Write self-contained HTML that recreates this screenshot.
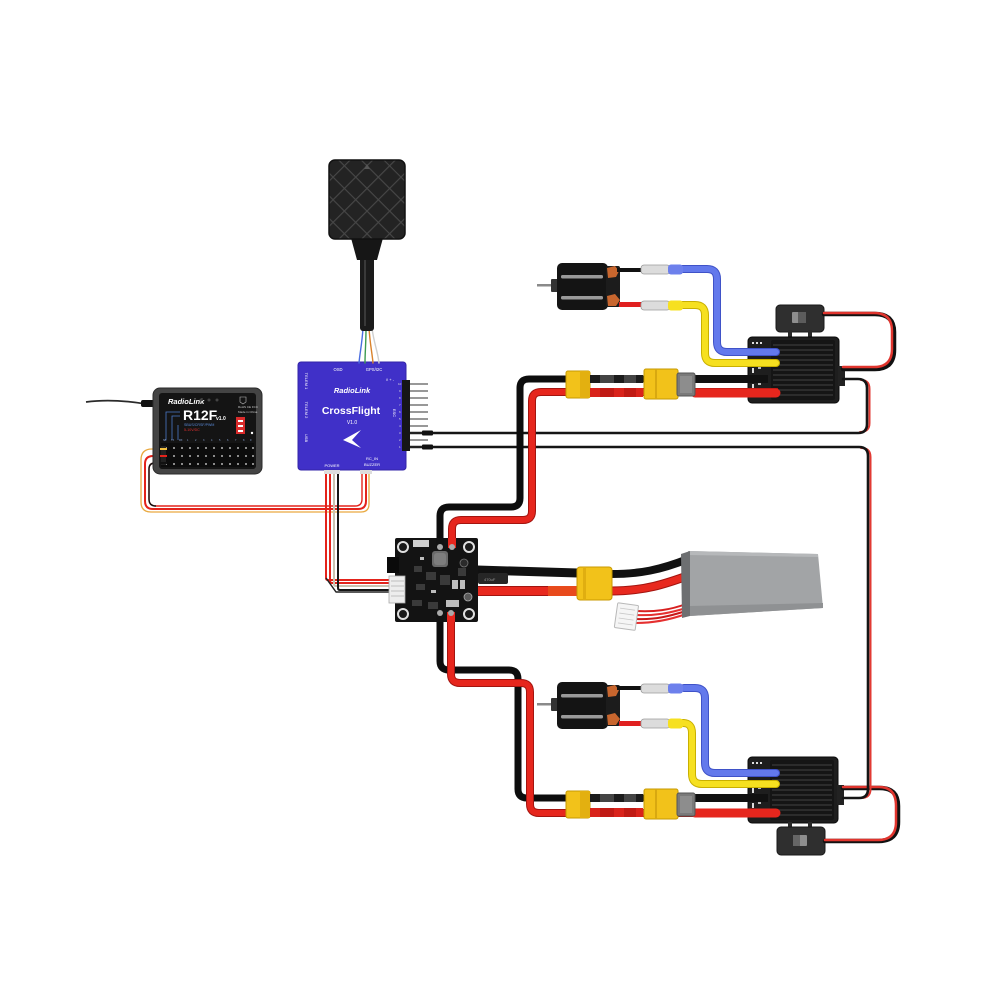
<!DOCTYPE html>
<html><head><meta charset="utf-8"><style>
html,body{margin:0;padding:0;background:#fff;}
svg{display:block;}
text{font-family:"Liberation Sans",sans-serif;}
</style></head><body>
<svg width="1000" height="1000" viewBox="0 0 1000 1000" xmlns="http://www.w3.org/2000/svg">
<defs>
<pattern id="dia" width="16" height="16" patternUnits="userSpaceOnUse" patternTransform="translate(367,165) rotate(45)">
<rect width="16" height="16" fill="#232323"/>
<path d="M0,0.5 H16 M0.5,0 V16" stroke="#474747" stroke-width="1.3"/>
</pattern>
</defs>
<rect width="1000" height="1000" fill="#fff"/>

<!-- ===== ESC bodies (top & bottom) ===== -->
<g id="escTop">
<rect x="776" y="305" width="48" height="27" rx="4" fill="#2f2f2f" stroke="#1a1a1a"/>
<rect x="792" y="312" width="14" height="11" rx="1" fill="#8e8e8e"/>
<rect x="798" y="312" width="8" height="11" fill="#5c5c5c"/>
<rect x="788" y="330" width="4" height="8" fill="#2a2a2a"/><rect x="808" y="330" width="4" height="8" fill="#2a2a2a"/>
<rect x="748" y="337" width="91" height="66" rx="4" fill="#1e1e1e" stroke="#0b0b0b"/>
<rect x="771" y="340" width="64" height="60" rx="2" fill="#151515"/>
<g stroke="#3a3a3a" stroke-width="1.2">
<line x1="773" y1="345" x2="833" y2="345"/><line x1="773" y1="350" x2="833" y2="350"/><line x1="773" y1="355" x2="833" y2="355"/><line x1="773" y1="360" x2="833" y2="360"/><line x1="773" y1="365" x2="833" y2="365"/><line x1="773" y1="370" x2="833" y2="370"/><line x1="773" y1="375" x2="833" y2="375"/><line x1="773" y1="380" x2="833" y2="380"/><line x1="773" y1="385" x2="833" y2="385"/><line x1="773" y1="390" x2="833" y2="390"/><line x1="773" y1="395" x2="833" y2="395"/>
</g>
<rect x="838" y="366" width="7" height="20" fill="#222"/>
<g fill="#ddd"><rect x="752" y="342" width="2" height="2"/><rect x="756" y="342" width="2" height="2"/><rect x="760" y="342" width="2" height="2"/>
<rect x="752" y="368" width="2" height="5"/><rect x="752" y="384" width="2" height="5"/><rect x="758" y="366" width="3" height="3" fill="#bbb"/><rect x="758" y="382" width="3" height="3" fill="#bbb"/></g>
</g>
<g id="escBot">
<rect x="748" y="757" width="90" height="66" rx="4" fill="#1e1e1e" stroke="#0b0b0b"/>
<rect x="770" y="760" width="64" height="60" rx="2" fill="#151515"/>
<g stroke="#3a3a3a" stroke-width="1.2">
<line x1="772" y1="765" x2="832" y2="765"/><line x1="772" y1="770" x2="832" y2="770"/><line x1="772" y1="775" x2="832" y2="775"/><line x1="772" y1="780" x2="832" y2="780"/><line x1="772" y1="785" x2="832" y2="785"/><line x1="772" y1="790" x2="832" y2="790"/><line x1="772" y1="795" x2="832" y2="795"/><line x1="772" y1="800" x2="832" y2="800"/><line x1="772" y1="805" x2="832" y2="805"/><line x1="772" y1="810" x2="832" y2="810"/><line x1="772" y1="815" x2="832" y2="815"/>
</g>
<rect x="837" y="785" width="7" height="20" fill="#222"/>
<g fill="#ddd"><rect x="752" y="762" width="2" height="2"/><rect x="756" y="762" width="2" height="2"/><rect x="760" y="762" width="2" height="2"/>
<rect x="752" y="788" width="2" height="5"/><rect x="752" y="803" width="2" height="5"/><rect x="758" y="786" width="3" height="3" fill="#bbb"/><rect x="758" y="801" width="3" height="3" fill="#bbb"/></g>
<rect x="788" y="822" width="4" height="7" fill="#2a2a2a"/><rect x="808" y="822" width="4" height="7" fill="#2a2a2a"/>
<rect x="777" y="827" width="48" height="28" rx="4" fill="#2f2f2f" stroke="#1a1a1a"/>
<rect x="793" y="835" width="14" height="11" rx="1" fill="#8e8e8e"/>
<rect x="793" y="835" width="7" height="11" fill="#666"/>
</g>

<!-- ===== Switch loops ===== -->
<g fill="none" stroke-linecap="round" stroke-linejoin="round">
<path d="M824,314 H875 Q894,314 894,332 V350 Q894,369 875,369 H843" stroke="#111" stroke-width="4.5"/>
<path d="M824,313 H874 Q892,313 892,331 V349 Q892,367 874,367 H843" stroke="#e0352e" stroke-width="2.5"/>
<path d="M825,841 H879 Q898,841 898,822 V806 Q898,788 880,788 H843" stroke="#111" stroke-width="4.5"/>
<path d="M825,840 H878 Q896,840 896,822 V806 Q896,787 879,787 H843" stroke="#e0352e" stroke-width="2.5"/>
</g>

<!-- ===== Signal wires FC -> ESC ===== -->
<g fill="none" stroke-linecap="round" stroke-linejoin="round">
<path d="M860,432 Q869.5,432 869.5,423 V389 Q869.5,380 861,380" stroke="#e23a33" stroke-width="2"/>
<path d="M425,433 H858 Q867,433 867,424 V388 Q867,379 858,379 H843" stroke="#151515" stroke-width="2.6"/>
<path d="M861,448 Q870.5,448 870.5,457 V789 Q870.5,798 861,798" stroke="#e23a33" stroke-width="2"/>
<path d="M425,447 H859 Q868,447 868,456 V789 Q868,798 859,798 H843" stroke="#151515" stroke-width="2.6"/>
</g>

<!-- ===== Main power wires ===== -->
<g fill="none" stroke-linecap="butt" stroke-linejoin="round">
<path d="M440,545 V516 Q440,507 449,507 H511 Q520,507 520,498 V388 Q520,379 529,379 H765" stroke="#0d0d0d" stroke-width="7"/>
<path d="M452,545 V529 Q452,520 461,520 H523 Q532,520 532,511 V401 Q532,392 541,392 H778" stroke="#a3140f" stroke-width="8"/>
<path d="M452,545 V529 Q452,520 461,520 H523 Q532,520 532,511 V401 Q532,392 541,392 H778" stroke="#e6261d" stroke-width="6"/>
<path d="M440,615 V661 Q440,670 449,670 H509 Q518,670 518,679 V789 Q518,798 527,798 H765" stroke="#0d0d0d" stroke-width="7"/>
<path d="M451,615 V674 Q451,683 460,683 H521 Q530,683 530,692 V804 Q530,813 539,813 H778" stroke="#a3140f" stroke-width="8"/>
<path d="M451,615 V674 Q451,683 460,683 H521 Q530,683 530,692 V804 Q530,813 539,813 H778" stroke="#e6261d" stroke-width="6"/>
<path d="M695,379 H768" stroke="#111" stroke-width="8"/>
<path d="M695,393 H776" stroke="#e6261d" stroke-width="9" stroke-linecap="round"/>
<path d="M695,798 H768" stroke="#111" stroke-width="8"/>
<path d="M695,813 H776" stroke="#e6261d" stroke-width="9" stroke-linecap="round"/>
</g>

<!-- ===== Motor wires blue/yellow ===== -->
<g fill="none" stroke-linecap="round" stroke-linejoin="round">
<path d="M682,269 H707 Q717,269 717,279 V342 Q717,352 727,352 H776" stroke="#3f52c8" stroke-width="8"/>
<path d="M682,269 H707 Q717,269 717,279 V342 Q717,352 727,352 H776" stroke="#6379ec" stroke-width="6"/>
<path d="M682,305 H695 Q705,305 705,315 V353 Q705,363 715,363 H776" stroke="#c9b000" stroke-width="8"/>
<path d="M682,305 H695 Q705,305 705,315 V353 Q705,363 715,363 H776" stroke="#f6e020" stroke-width="6"/>
<path d="M684,688 H695 Q705,688 705,698 V763 Q705,773 715,773 H776" stroke="#3f52c8" stroke-width="8"/>
<path d="M684,688 H695 Q705,688 705,698 V763 Q705,773 715,773 H776" stroke="#6379ec" stroke-width="6"/>
<path d="M684,723 H683 Q692,723 692,733 V774 Q692,784 702,784 H776" stroke="#c9b000" stroke-width="8"/>
<path d="M684,723 H683 Q692,723 692,733 V774 Q692,784 702,784 H776" stroke="#f6e020" stroke-width="6"/>
</g>

<!-- ===== XT60 connectors (ESC side) ===== -->
<g id="xtTop">
<rect x="566" y="371" width="24" height="27" rx="2" fill="#f2c21a" stroke="#c79a00"/>
<rect x="580" y="371" width="10" height="27" fill="#e3b010"/>
<rect x="590" y="375" width="53" height="8" fill="#1c1c1c"/>
<rect x="600" y="375" width="14" height="8" fill="#444"/><rect x="624" y="375" width="12" height="8" fill="#444"/>
<rect x="590" y="388" width="53" height="9" fill="#d9231b"/>
<rect x="600" y="388" width="14" height="9" fill="#c01a14"/><rect x="624" y="388" width="12" height="9" fill="#c01a14"/>
<rect x="644" y="369" width="34" height="30" rx="2" fill="#f2c21a" stroke="#c79a00"/>
<rect x="655" y="369" width="2" height="30" fill="#d8a810"/>
<rect x="677" y="373" width="18" height="23" rx="2" fill="#7a7a7a" stroke="#555"/>
<rect x="680" y="376" width="12" height="17" fill="#8d8d8d"/>
</g>
<g transform="translate(0,420)">
<rect x="566" y="371" width="24" height="27" rx="2" fill="#f2c21a" stroke="#c79a00"/>
<rect x="580" y="371" width="10" height="27" fill="#e3b010"/>
<rect x="590" y="374" width="53" height="8" fill="#1c1c1c"/>
<rect x="600" y="374" width="14" height="8" fill="#444"/><rect x="624" y="374" width="12" height="8" fill="#444"/>
<rect x="590" y="388" width="53" height="9" fill="#d9231b"/>
<rect x="600" y="388" width="14" height="9" fill="#c01a14"/><rect x="624" y="388" width="12" height="9" fill="#c01a14"/>
<rect x="644" y="369" width="34" height="30" rx="2" fill="#f2c21a" stroke="#c79a00"/>
<rect x="655" y="369" width="2" height="30" fill="#d8a810"/>
<rect x="677" y="373" width="18" height="23" rx="2" fill="#7a7a7a" stroke="#555"/>
<rect x="680" y="376" width="12" height="17" fill="#8d8d8d"/>
</g>

<!-- ===== Motors ===== -->
<g id="motTop">
<rect x="537" y="284" width="20" height="2.5" fill="#8a8a8a"/>
<rect x="551" y="279" width="7" height="13" rx="1" fill="#333"/>
<rect x="557" y="263" width="51" height="47" rx="5" fill="#141414"/>
<rect x="561" y="275" width="42" height="3.5" rx="1.5" fill="#9a9a9a"/>
<rect x="561" y="296" width="42" height="3.5" rx="1.5" fill="#9a9a9a"/>
<rect x="606" y="266" width="14" height="41" rx="2" fill="#1c1c1c"/>
<path d="M607,268 l8,-2 l4,5 l-3,6 l-8,1 z M607,296 l8,-2 l5,6 l-4,6 l-8,0 z" fill="#c8662e"/>
<rect x="617" y="268" width="25" height="4" fill="#111"/>
<rect x="619" y="302" width="23" height="5" fill="#e02020"/>
<rect x="641" y="265" width="29" height="9" rx="3" fill="#dcdcdc" stroke="#9a9a9a" stroke-width="0.8"/>
<rect x="668" y="264.5" width="15" height="10" rx="3" fill="#6d80ec"/>
<rect x="641" y="301" width="29" height="9" rx="3" fill="#dcdcdc" stroke="#9a9a9a" stroke-width="0.8"/>
<rect x="668" y="300.5" width="15" height="10" rx="3" fill="#f6e020"/>
</g>
<g transform="translate(0,419)">
<rect x="537" y="284" width="20" height="2.5" fill="#8a8a8a"/>
<rect x="551" y="279" width="7" height="13" rx="1" fill="#333"/>
<rect x="557" y="263" width="51" height="47" rx="5" fill="#141414"/>
<rect x="561" y="275" width="42" height="3.5" rx="1.5" fill="#9a9a9a"/>
<rect x="561" y="296" width="42" height="3.5" rx="1.5" fill="#9a9a9a"/>
<rect x="606" y="266" width="14" height="41" rx="2" fill="#1c1c1c"/>
<path d="M607,268 l8,-2 l4,5 l-3,6 l-8,1 z M607,296 l8,-2 l5,6 l-4,6 l-8,0 z" fill="#c8662e"/>
<rect x="617" y="267" width="25" height="4" fill="#111"/>
<rect x="619" y="302" width="23" height="5" fill="#e02020"/>
<rect x="641" y="265" width="29" height="9" rx="3" fill="#dcdcdc" stroke="#9a9a9a" stroke-width="0.8"/>
<rect x="668" y="264.5" width="15" height="10" rx="3" fill="#6d80ec"/>
<rect x="641" y="300" width="29" height="9" rx="3" fill="#dcdcdc" stroke="#9a9a9a" stroke-width="0.8"/>
<rect x="668" y="299.5" width="15" height="10" rx="3" fill="#f6e020"/>
</g>

<!-- ===== Receiver ribbon to RC IN ===== -->
<g fill="none" stroke-linejoin="round">
<path d="M165,449 H152 Q141,449 141,460 V502 Q141,512 151,512 H361 Q369,512 369,504 V472" stroke="#e9a940" stroke-width="1.3"/>
<path d="M165,456 H153 Q145,456 145,464 V501 Q145,509 153,509 H358 Q366,509 366,501 V472" stroke="#e3231b" stroke-width="2"/>
<path d="M165,463 H155 Q149,463 149,469 V499 Q149,506 156,506 H355 Q362,506 362,499 V472" stroke="#e3231b" stroke-width="1.4"/>
<path d="M155,463 Q149,463 149,469 V499 Q149,506 156,506" stroke="#111" stroke-width="1.4"/>
</g>

<!-- ===== POWER wires FC -> PDB ===== -->
<g fill="none" stroke-linejoin="round" stroke-width="2">
<path d="M326,474 V578 Q326,580 328,580 H392" stroke="#e3231b"/>
<path d="M330,474 V581 Q330,583 332,583 H392" stroke="#e3231b"/>
<path d="M334,474 V584 Q334,586 336,586 H392" stroke="#c9c2b0"/>
<path d="M338,474 V588 Q338,590 340,590 H392" stroke="#151515"/>
<path d="M326,578 L336,592 H392" stroke="#222" stroke-width="1.5"/>
</g>

<!-- ===== Flight controller ===== -->
<g id="fc">
<rect x="298" y="362" width="108" height="108" rx="3" fill="#4030c8" stroke="#3324a8"/>
<g fill="#ffffff" text-anchor="middle">
<text x="338" y="371" font-size="4.2">OSD</text>
<text x="374" y="371" font-size="4.2">GPS/I2C</text>
<text x="352" y="393" font-size="7.5" font-weight="bold" font-style="italic">RadioLink</text>
<text x="351" y="414" font-size="10.5" font-weight="bold">CrossFlight</text>
<text x="352" y="424" font-size="5">V1.0</text>
<text x="332" y="467" font-size="4">POWER</text>
<text x="372" y="460" font-size="4">RC_IN</text>
<text x="372" y="466" font-size="4">BUZZER</text>
<text x="390" y="381" font-size="4">/\ + -</text>
<text transform="translate(305,381) rotate(90)" font-size="4">TELEM 1</text>
<text transform="translate(305,410) rotate(90)" font-size="4">TELEM 2</text>
<text transform="translate(305,438) rotate(90)" font-size="4">USB</text>
<text transform="translate(393,413) rotate(90)" font-size="4">ESC</text>
</g>
<polygon points="343,440 361,430 352,440 361,448" fill="#fff"/>
<g fill="#ddd" font-size="3" font-family="Liberation Sans,sans-serif">
<text x="398" y="385">10</text><text x="399" y="392">9</text><text x="399" y="399">8</text><text x="399" y="406">7</text><text x="399" y="413">6</text><text x="399" y="420">5</text><text x="399" y="427">4</text><text x="399" y="434">3</text><text x="399" y="441">2</text><text x="399" y="448">1</text>
</g>
<rect x="402" y="380" width="8" height="71" fill="#161616"/>
<g stroke="#8a8a8a" stroke-width="1.8">
<line x1="410" y1="384" x2="428" y2="384"/><line x1="410" y1="391" x2="428" y2="391"/><line x1="410" y1="398" x2="428" y2="398"/><line x1="410" y1="405" x2="428" y2="405"/><line x1="410" y1="412" x2="428" y2="412"/><line x1="410" y1="419" x2="428" y2="419"/><line x1="410" y1="426" x2="428" y2="426"/><line x1="410" y1="440" x2="428" y2="440"/>
</g>
<line x1="410" y1="433" x2="425" y2="433" stroke="#222" stroke-width="2.5"/>
<line x1="410" y1="447" x2="425" y2="447" stroke="#222" stroke-width="2.5"/>
<rect x="422" y="430.5" width="11" height="5" rx="1" fill="#111"/>
<rect x="422" y="444.5" width="11" height="5" rx="1" fill="#111"/>
<rect x="324" y="470" width="16" height="4" fill="#ddd"/>
<rect x="360" y="470" width="12" height="4" fill="#ddd"/>
</g>

<!-- ===== VTX ===== -->
<g id="vtx">
<g fill="none" stroke-width="1.4" stroke-linecap="round">
<path d="M363,328 C362,344 360,352 359,363" stroke="#4a6ee0"/>
<path d="M366,328 C366,344 365,352 365,363" stroke="#3c9a50"/>
<path d="M369,328 C370,344 372,352 373,363" stroke="#d9822b"/>
<path d="M372,328 C374,344 378,352 379,363" stroke="#cfcfcf"/>
</g>
<rect x="360" y="252" width="14" height="79" rx="3" fill="#1b1b1b"/>
<rect x="364" y="258" width="2" height="68" fill="#3a3a3a"/>
<polygon points="351,238 383,238 377,260 357,260" fill="#161616"/>
<rect x="329" y="160" width="76" height="79" rx="6" fill="url(#dia)" stroke="#111" stroke-width="1.5"/>
<polygon points="367,164 370,169 364,169" fill="#555"/>
</g>

<!-- ===== Receiver ===== -->
<g id="rx">
<path d="M86,402 C108,399 128,401 146,404" fill="none" stroke="#2a2a2a" stroke-width="1.8"/>
<rect x="141" y="400" width="14" height="7" rx="2" fill="#111"/>
<rect x="153" y="388" width="109" height="86" rx="7" fill="#444" stroke="#2a2a2a"/>
<rect x="159" y="393" width="97" height="76" rx="3" fill="#141414"/>
<text x="168" y="404" font-size="7.5" font-weight="bold" font-style="italic" fill="#fff">RadioLink</text>
<circle cx="201" cy="400" r="1.5" fill="#444"/><circle cx="209" cy="400" r="1.5" fill="#444"/><circle cx="217" cy="400" r="1.5" fill="#444"/>
<text x="183" y="420" font-size="14" font-weight="bold" fill="#fff">R12F</text>
<text x="216" y="420" font-size="5" font-weight="bold" fill="#fff">v1.0</text>
<text x="238" y="408" font-size="3" fill="#ccc">RoHS CE FCC</text>
<text x="238" y="413" font-size="3" fill="#ccc">Made in China</text>
<path d="M240,397 h6 v5 l-3,2 l-3,-2 z" fill="none" stroke="#bbb" stroke-width="0.6"/>
<text x="184" y="426" font-size="3.6" fill="#5a8ad8">SBUS/CRSF/PWM</text>
<text x="184" y="431" font-size="3.6" fill="#e03030">5-10V/DC</text>
<rect x="236" y="417" width="9" height="17" fill="#d92b2b"/>
<rect x="238" y="420" width="5" height="2" fill="#fff"/><rect x="238" y="425" width="5" height="2" fill="#fff"/><rect x="238" y="430" width="5" height="2" fill="#fff"/>
<circle cx="252" cy="433" r="1.2" fill="#fff"/>
<g stroke="#4a78c8" stroke-width="0.8" fill="none">
<path d="M166,440 V412 H180"/><path d="M172,440 V416 H180"/><path d="M178,440 V425"/>
</g>
<g fill="#8aa6d8" font-size="2.5">
<text x="163" y="441">SB</text><text x="171" y="441">TX</text><text x="179" y="441">RX</text><text x="187" y="441">1</text><text x="195" y="441">2</text><text x="203" y="441">3</text><text x="211" y="441">4</text><text x="219" y="441">5</text><text x="227" y="441">6</text><text x="235" y="441">7</text><text x="243" y="441">8</text><text x="250" y="441">9</text>
</g>
<rect x="161" y="443" width="93" height="24" fill="#0c0c0c"/>
<g fill="#e8e8e8">
<circle cx="166" cy="448" r="0.9"/><circle cx="174" cy="448" r="0.9"/><circle cx="182" cy="448" r="0.9"/><circle cx="190" cy="448" r="0.9"/><circle cx="198" cy="448" r="0.9"/><circle cx="206" cy="448" r="0.9"/><circle cx="214" cy="448" r="0.9"/><circle cx="222" cy="448" r="0.9"/><circle cx="230" cy="448" r="0.9"/><circle cx="238" cy="448" r="0.9"/><circle cx="246" cy="448" r="0.9"/><circle cx="253" cy="448" r="0.9"/>
<circle cx="166" cy="456" r="0.9"/><circle cx="174" cy="456" r="0.9"/><circle cx="182" cy="456" r="0.9"/><circle cx="190" cy="456" r="0.9"/><circle cx="198" cy="456" r="0.9"/><circle cx="206" cy="456" r="0.9"/><circle cx="214" cy="456" r="0.9"/><circle cx="222" cy="456" r="0.9"/><circle cx="230" cy="456" r="0.9"/><circle cx="238" cy="456" r="0.9"/><circle cx="246" cy="456" r="0.9"/><circle cx="253" cy="456" r="0.9"/>
<circle cx="166" cy="464" r="0.9"/><circle cx="174" cy="464" r="0.9"/><circle cx="182" cy="464" r="0.9"/><circle cx="190" cy="464" r="0.9"/><circle cx="198" cy="464" r="0.9"/><circle cx="206" cy="464" r="0.9"/><circle cx="214" cy="464" r="0.9"/><circle cx="222" cy="464" r="0.9"/><circle cx="230" cy="464" r="0.9"/><circle cx="238" cy="464" r="0.9"/><circle cx="246" cy="464" r="0.9"/><circle cx="253" cy="464" r="0.9"/>
</g>
<rect x="161" y="446" width="5" height="19" fill="#222"/>
<line x1="160" y1="449" x2="167" y2="449" stroke="#f0c040" stroke-width="2"/>
<line x1="160" y1="456" x2="167" y2="456" stroke="#e3231b" stroke-width="2"/>
<line x1="160" y1="463" x2="167" y2="463" stroke="#111" stroke-width="2"/>
</g>

<!-- ===== Battery leads ===== -->
<g fill="none" stroke-linecap="butt">
<path d="M477,570 C520,571 550,572 578,573" stroke="#111" stroke-width="9"/>
<path d="M477,591 H578" stroke="#a3140f" stroke-width="10"/>
<path d="M477,591 H578" stroke="#e8291f" stroke-width="8"/>
<rect x="548" y="586" width="30" height="10" fill="#e84a1c" stroke="none"/>
<path d="M611,574 C640,574 660,570 688,559" stroke="#111" stroke-width="8"/>
<path d="M611,591 C645,591 665,584 690,575" stroke="#a3140f" stroke-width="9"/>
<path d="M611,591 C645,591 665,584 690,575" stroke="#e8291f" stroke-width="7"/>
<path d="M636,611 C655,612 670,610 686,604" stroke="#d82020" stroke-width="2"/>
<path d="M636,615 C655,616 670,613 686,608" stroke="#e53030" stroke-width="2"/>
<path d="M636,619 C655,620 670,616 686,611" stroke="#c81818" stroke-width="2"/>
<path d="M636,623 C655,623 672,619 686,614" stroke="#e53030" stroke-width="2"/>
</g>
<rect x="478" y="573" width="30" height="11" rx="2" fill="#262626"/>
<text x="484" y="581" font-size="4" fill="#999">470uF</text>
<rect x="577" y="567" width="35" height="33" rx="3" fill="#f2c21a" stroke="#c99a00"/>
<rect x="583" y="567" width="3" height="33" fill="#e0ae10"/>
<g transform="rotate(8 626 616)">
<rect x="616" y="604" width="21" height="25" rx="1" fill="#f5f5f5" stroke="#b8b8b8"/>
<g stroke="#c8c8c8" stroke-width="0.8"><line x1="619" y1="609" x2="634" y2="609"/><line x1="619" y1="614" x2="634" y2="614"/><line x1="619" y1="619" x2="634" y2="619"/><line x1="619" y1="624" x2="634" y2="624"/></g>
</g>
<polygon points="688,551 818,554 823,608 690,616" fill="#a2a4a6"/>
<polygon points="690,606 823,603 823,608 690,616" fill="#8f9193"/>
<polygon points="688,551 818,554 818,557 688,555" fill="#b6b8ba"/>
<polygon points="681,554 690,551 690,616 682,618" fill="#6d6f71"/>

<!-- ===== PDB ===== -->
<g id="pdb">
<rect x="395" y="538" width="83" height="84" rx="2" fill="#131313"/>
<circle cx="403" cy="547" r="5" fill="#1a1a1a" stroke="#e0e0e0" stroke-width="2"/>
<circle cx="469" cy="547" r="5" fill="#1a1a1a" stroke="#e0e0e0" stroke-width="2"/>
<circle cx="403" cy="614" r="5" fill="#1a1a1a" stroke="#e0e0e0" stroke-width="2"/>
<circle cx="469" cy="614" r="5" fill="#1a1a1a" stroke="#e0e0e0" stroke-width="2"/>
<rect x="413" y="540" width="16" height="7" fill="#cfcfcf"/>
<rect x="432" y="551" width="16" height="16" rx="3" fill="#6a6a6a"/>
<rect x="434" y="553" width="12" height="12" rx="3" fill="#7d7d7d"/>
<rect x="387" y="557" width="12" height="16" fill="#0a0a0a"/>
<rect x="389" y="576" width="16" height="27" fill="#ededed" stroke="#aaa" stroke-width="0.8"/>
<g stroke="#aaa" stroke-width="0.7"><line x1="391" y1="581" x2="404" y2="581"/><line x1="391" y1="586" x2="404" y2="586"/><line x1="391" y1="591" x2="404" y2="591"/><line x1="391" y1="596" x2="404" y2="596"/></g>
<g fill="#3a3a3a"><rect x="414" y="566" width="8" height="6"/><rect x="426" y="572" width="10" height="8"/><rect x="416" y="584" width="9" height="6"/><rect x="440" y="575" width="10" height="10"/><rect x="458" y="568" width="8" height="8"/><rect x="412" y="600" width="10" height="6"/><rect x="428" y="602" width="10" height="7"/></g>
<g fill="#bdbdbd"><rect x="452" y="580" width="6" height="9"/><rect x="460" y="580" width="5" height="9"/><rect x="446" y="600" width="13" height="7"/><rect x="431" y="590" width="5" height="3"/><rect x="420" y="557" width="4" height="3"/></g>
<circle cx="468" cy="597" r="4" fill="#5a5a5a" stroke="#aaa" stroke-width="0.8"/>
<circle cx="464" cy="563" r="4" fill="#2a2a2a" stroke="#777" stroke-width="0.8"/>
<rect x="436" y="538" width="8" height="10" fill="#111"/>
<rect x="448" y="538" width="8" height="10" fill="#e6261d"/>
<rect x="436" y="612" width="8" height="10" fill="#111"/>
<rect x="447" y="612" width="8" height="10" fill="#e6261d"/>
<circle cx="440" cy="547" r="3" fill="#aaa"/><circle cx="452" cy="547" r="3" fill="#aaa"/>
<circle cx="440" cy="613" r="3" fill="#aaa"/><circle cx="451" cy="613" r="3" fill="#aaa"/>
</g>
</svg>
</body></html>
